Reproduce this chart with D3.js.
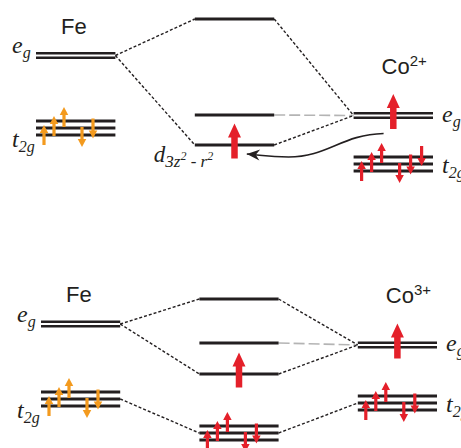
<!DOCTYPE html>
<html>
<head>
<meta charset="utf-8">
<script src="https://cdn.jsdelivr.net/npm/d3@7"></script>
<style>
body { margin: 0; background: #fff; }
svg { display: block; }
.ion { font-family: "Liberation Sans", Arial, sans-serif; font-size: 22px; fill: #231f20; }
.orb { font-family: "Liberation Serif", "Times New Roman", serif; font-style: italic; fill: #231f20; }
</style>
</head>
<body>
<div id="chart"></div>
<script>
/* Data ************************************************************************/

// columns of the level scheme: Fe site, hybridised levels, Co site
var columns = ['Fe', 'mix', 'Co'];

// levels (same order in both panels)
var level_cols  = ['Fe', 'Fe', 'mix', 'mix', 'mix', 'mix', 'Co', 'Co'],
    level_lines = [2, 3, 1, 1, 1, 3, 2, 3],          // degeneracy drawn as lines
    level_tags  = ['eg', 't2g', '', '', '', '', 'eg', 't2g'];

// energies (arb. units), null = level not drawn
var co2_energy = [119.5, 47, 156, 60, 30, null, 59.5, 11],
    co3_energy = [121,   46, 146, 102, 71, 12,  100,  42];

// electrons per level: u/d small up/down spin, U big up spin
var co2_spins = ['', 'uuudd', '', '', 'U', '',      'U', 'uuuddd'],
    co3_spins = ['', 'uuudd', '', '', 'U', 'uuudd', 'U', 'uuudd'];

// dashed connectors (level index pairs) and the grey one
var co2_bonds = [[0, 2], [0, 4], [2, 6], [4, 6]],
    co3_bonds = [[0, 2], [0, 4], [1, 5], [2, 6], [4, 6], [5, 7]],
    grey_bond = [3, 6];

var ion_charges = ['2+', '3+'];

/* Layout **********************************************************************/

var width = 461,
    height = 448,
    ink = '#231f20',
    orange = '#f39a1e',
    red = '#e4202a';

var line_offsets = { 1: [0], 2: [-2.2, 2.2], 3: [-7, 0, 7] };

var panels = [
    { energy: co2_energy, spins: co2_spins, bonds: co2_bonds, charge: ion_charges[0],
      x0: 36, x1: 433, y0: 175, curl: true },
    { energy: co3_energy, spins: co3_spins, bonds: co3_bonds, charge: ion_charges[1],
      x0: 41, x1: 437, y0: 445, curl: false }
];

/* Functions *******************************************************************/

// vertical block arrow centred at (cx, cy); dir -1 = up, +1 = down
function arrow_path(cx, cy, dir, len, head, hw, sw)
{
    let tip = cy + dir*len/2,
        tail = cy - dir*len/2,
        neck = tip - dir*head;
    return d3.line()([[cx - sw/2, tail], [cx - sw/2, neck], [cx - hw/2, neck], [cx, tip],
                      [cx + hw/2, neck], [cx + sw/2, neck], [cx + sw/2, tail]]) + 'Z';
}

function orbital_label(g, x, y, tag)
{
    let t = g.append('text').attr('class', 'orb').attr('x', x).attr('y', y);
    t.append('tspan').attr('font-size', 24).text(tag[0]);
    t.append('tspan').attr('font-size', 16).attr('dy', 5).text(tag.slice(1));
}

var svg = d3.select('#chart').append('svg')
    .attr('width', width)
    .attr('height', height);

var defs = svg.append('defs');
defs.append('marker')
    .attr('id', 'head')
    .attr('viewBox', '-14 -7 16 14')
    .attr('markerWidth', 16).attr('markerHeight', 14)
    .attr('markerUnits', 'userSpaceOnUse')
    .attr('orient', 'auto')
    .append('path')
    .attr('d', 'M0,0 L-13,-5.5 L-9,0 L-13,5.5 Z')
    .attr('fill', ink);

function build_panel(p)
{
    let x = d3.scaleBand().domain(columns).range([p.x0, p.x1]).paddingInner(0.5),
        y = d3.scaleLinear().domain([0, 160]).range([p.y0, p.y0 - 160]),
        bw = x.bandwidth(),
        g = svg.append('g');

    let lv = level_cols.map((c, i) => ({
        col: c, n: level_lines[i], tag: level_tags[i], spins: p.spins[i],
        x0: x(c), x1: x(c) + bw,
        y: p.energy[i] == null ? null : y(p.energy[i]) }));

    // grey connector
    g.append('line')
        .attr('x1', lv[grey_bond[0]].x1).attr('y1', lv[grey_bond[0]].y)
        .attr('x2', lv[grey_bond[1]].x0).attr('y2', lv[grey_bond[1]].y)
        .attr('stroke', '#b4b4b4').attr('stroke-width', 1.6)
        .attr('stroke-dasharray', '11,4');

    // dashed connectors
    g.selectAll('line.bond').data(p.bonds).enter()
        .append('line')
        .attr('class', 'bond')
        .attr('x1', d => lv[d[0]].x1).attr('y1', d => lv[d[0]].y)
        .attr('x2', d => lv[d[1]].x0).attr('y2', d => lv[d[1]].y)
        .attr('stroke', ink).attr('stroke-width', 1.4)
        .attr('stroke-dasharray', '3,2');

    // level lines
    let segs = [];
    lv.forEach(l => {
        if (l.y == null) return;
        line_offsets[l.n].forEach(o => segs.push({ x0: l.x0, x1: l.x1, y: l.y + o, n: l.n }));
    });
    g.selectAll('line.level').data(segs).enter()
        .append('line')
        .attr('class', 'level')
        .attr('x1', d => d.x0).attr('x2', d => d.x1)
        .attr('y1', d => d.y).attr('y2', d => d.y)
        .attr('stroke', ink)
        .attr('stroke-width', d => d.n == 2 ? 2.6 : 2.8);

    // electrons
    let arrows = [];
    lv.forEach(l => {
        if (l.y == null) return;
        let nu = 0, nd = 0;
        l.spins.split('').forEach(s => {
            let color = l.col == 'Fe' ? orange : red;
            if (s == 'U')
                arrows.push({ d: arrow_path(l.x0 + bw/2, l.y - 4, -1, 35, 14, 13, 6.5), c: color });
            else if (s == 'u') {
                arrows.push({ d: arrow_path(l.x0 + 8 + 10*nu, l.y + 7 - 9*nu, -1, 20, 8, 8.5, 3.2), c: color });
                nu++;
            } else {
                arrows.push({ d: arrow_path(l.x0 + 46 + 11*nd, l.y + 9 - 8.5*nd, 1, 20, 8, 8.5, 3.2), c: color });
                nd++;
            }
        });
    });
    g.selectAll('path.spin').data(arrows).enter()
        .append('path')
        .attr('class', 'spin')
        .attr('d', d => d.d)
        .attr('fill', d => d.c);

    // ion labels
    g.append('text').attr('class', 'ion')
        .attr('x', x('Fe') + 25).attr('y', lv[0].y - 22)
        .text('Fe');
    let co = g.append('text').attr('class', 'ion')
        .attr('x', x('Co') + 28).attr('y', lv[6].y - 42);
    co.append('tspan').text('Co');
    co.append('tspan').attr('font-size', 15).attr('dy', -8).text(p.charge);

    // orbital labels
    orbital_label(g, x('Fe') - 24, lv[0].y - 2.5, 'eg');
    orbital_label(g, x('Fe') - 24, lv[1].y + 18.5, 't2g');
    orbital_label(g, x('Co') + bw + 9, lv[6].y + 6, 'eg');
    orbital_label(g, x('Co') + bw + 9, lv[7].y + 9, 't2g');

    if (!p.curl) return;

    // d_{3z^2 - r^2} label under the lowest e_g-derived level
    let lab = g.append('text').attr('class', 'orb')
        .attr('x', x('mix') - 41).attr('y', lv[4].y + 17);
    lab.append('tspan').attr('font-size', 23).text('d');
    lab.append('tspan').attr('font-size', 17).attr('dy', 5).text('3z');
    lab.append('tspan').attr('font-size', 12).attr('dy', -7).text('2');
    lab.append('tspan').attr('font-size', 17).attr('dy', 7).text(' - r');
    lab.append('tspan').attr('font-size', 12).attr('dy', -7).text('2');

    // curved arrow from the Co site to the d_{3z^2-r^2} level
    let sx = x('Co') + 30, sy = lv[6].y + 18,
        ex = x('mix') + 52, ey = lv[4].y + 9,
        path = d3.path();
    path.moveTo(sx, sy);
    path.bezierCurveTo(sx - 42, sy + 1, sx - 56, ey + 3, sx - 95, ey + 3);
    path.bezierCurveTo(sx - 115, ey + 3, ex + 14, ey + 1, ex, ey);
    g.append('path')
        .attr('d', path.toString())
        .attr('fill', 'none')
        .attr('stroke', ink)
        .attr('stroke-width', 1.6)
        .attr('marker-end', 'url(#head)');
}

panels.forEach(build_panel);
</script>
</body>
</html>
